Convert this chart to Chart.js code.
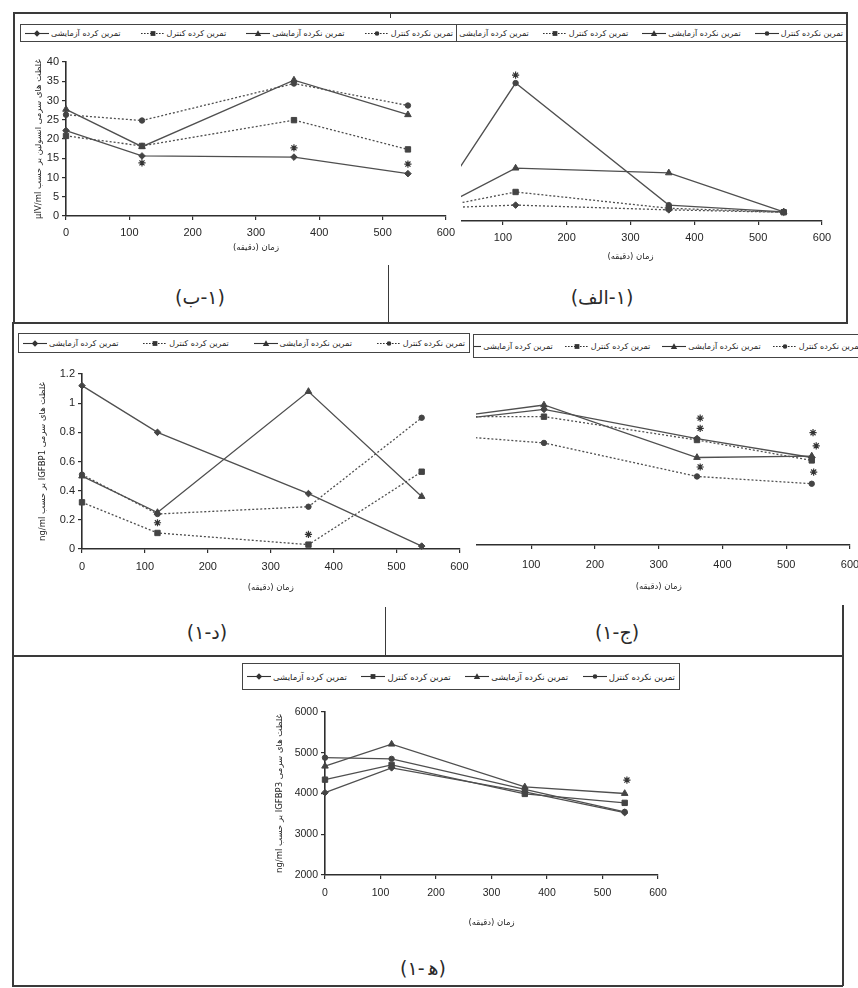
<!DOCTYPE html>
<html><head><meta charset="utf-8">
<script src="https://cdn.jsdelivr.net/npm/chart.js@4.4.0/dist/chart.umd.min.js"></script>
<style>
html,body{margin:0;padding:0;background:#fff;}
body{width:858px;height:988px;position:relative;overflow:hidden;font-family:"Liberation Sans","DejaVu Sans",sans-serif;}
canvas{position:absolute;}
.ln{position:absolute;background:#3a3a3a;}
.leg{position:absolute;border:1px solid #444;background:#fff;display:flex;flex-direction:row;direction:rtl;align-items:center;white-space:nowrap;overflow:hidden;font-family:"DejaVu Sans",sans-serif;font-size:8px;color:#222;box-sizing:border-box;padding:0 4px;}
.item{display:flex;align-items:center;direction:rtl;gap:2px;flex:none;}
.cap{position:absolute;font-family:"DejaVu Sans",sans-serif;font-size:19px;color:#2a2a2a;transform:translate(-50%,-50%);white-space:nowrap;display:flex;flex-direction:row;direction:ltr;align-items:baseline;}
.cap span{display:block;}
</style></head><body>
<canvas id="cAlef" dir="rtl"></canvas>
<canvas id="cJim" dir="rtl"></canvas>
<canvas id="cBe" dir="rtl"></canvas>
<canvas id="cDal" dir="rtl"></canvas>
<canvas id="cHe" dir="rtl"></canvas>
<div id="legs"></div>
<div id="frames"></div>
<div class="cap" style="left:200px;top:297px;"><span>(</span><span>ب</span><span>-</span><span>١</span><span>)</span></div>
<div class="cap" style="left:602px;top:297px;"><span>(</span><span dir="rtl">الف</span><span>-</span><span>١</span><span>)</span></div>
<div class="cap" style="left:207px;top:632px;"><span>(</span><span>١</span><span>-</span><span>د</span><span>)</span></div>
<div class="cap" style="left:617px;top:632px;"><span>(</span><span>١</span><span>-</span><span>ج</span><span>)</span></div>
<div class="cap" style="left:423px;top:968px;"><span>(</span><span>١</span><span>-</span><span style="margin-left:4px">ه&#x200D;</span><span>)</span></div>
<script>
// ---------- DATA ----------
const times = [0, 120, 360, 540];
const xTicks = [0, 100, 200, 300, 400, 500, 600];
const seriesNames = ['تمرین نکرده کنترل', 'تمرین نکرده آزمایشی', 'تمرین کرده کنترل', 'تمرین کرده آزمایشی'];
const xTitle = 'زمان (دقیقه)';

// (۱-ب) insulin
const insulinUntrainedControl = [26.3, 24.8, 34.4, 28.7];
const insulinUntrainedExp     = [27.7, 18.0, 35.3, 26.3];
const insulinTrainedControl   = [20.8, 18.2, 24.9, 17.3];
const insulinTrainedExp       = [22.2, 15.6, 15.3, 11.0];
const insulinStarX = [120, 360, 540];
const insulinStarY = [13.8, 17.7, 13.5];
const insulinYTicks = [0, 5, 10, 15, 20, 25, 30, 35, 40];
const insulinYTitle = 'غلظت های سرمی انسولین بر حسب µIV/ml';

// (۱-الف) (axis hidden in the source)
const alefUntrainedControl = [5.5, 34.7, 4.0, 2.3];
const alefUntrainedExp     = [3.3, 13.3, 12.1, 2.3];
const alefTrainedControl   = [3.5, 7.3, 3.2, 2.2];
const alefTrainedExp       = [3.3, 4.0, 2.8, 2.2];
const alefStarX = [120];
const alefStarY = [36.7];

// (۱-د) IGFBP1
const bp1UntrainedControl = [0.51, 0.24, 0.29, 0.90];
const bp1UntrainedExp     = [0.50, 0.25, 1.08, 0.36];
const bp1TrainedControl   = [0.32, 0.11, 0.03, 0.53];
const bp1TrainedExp       = [1.12, 0.80, 0.38, 0.02];
const bp1StarX = [120, 360];
const bp1StarY = [0.18, 0.10];
const bp1YTicks = [0, 0.2, 0.4, 0.6, 0.8, 1, 1.2];
const bp1YTitle = 'غلظت های سرمی IGFBP1 بر حسب ng/ml';

// (۱-ج) (axis hidden in the source)
const jimUntrainedControl = [0.74, 0.70, 0.47, 0.42];
const jimUntrainedExp     = [0.89, 0.96, 0.60, 0.61];
const jimTrainedControl   = [0.88, 0.88, 0.72, 0.58];
const jimTrainedExp       = [0.87, 0.93, 0.73, 0.60];
const jimStarX = [365, 365, 365, 542, 547, 543];
const jimStarY = [0.87, 0.80, 0.535, 0.77, 0.68, 0.50];

// (۱-ه) IGFBP3
const bp3UntrainedControl = [4880, 4850, 4100, 3550];
const bp3UntrainedExp     = [4670, 5210, 4160, 4000];
const bp3TrainedControl   = [4340, 4700, 3990, 3770];
const bp3TrainedExp       = [4020, 4630, 4040, 3530];
const bp3StarX = [544];
const bp3StarY = [4330];
const bp3YTicks = [2000, 3000, 4000, 5000, 6000];
const bp3YTitle = 'غلظت های سرمی IGFBP3 بر حسب ng/ml';

// ---------- STYLE / HELPERS ----------
const C = {line:'#4f4f4f', point:'#444', axis:'#2e2e2e', text:'#262626'};
const FONT_LAT = '"Liberation Sans", Arial, sans-serif';
const FONT_FA = '"DejaVu Sans", sans-serif';

function ser(i, vals, shape, dashed){
  const r = shape==='triangle'?3.8:(shape==='circle'?2.7:(shape==='rect'?3.8:3.3));
  return {label:seriesNames[i], data:times.map((t,k)=>({x:t,y:vals[k]})), borderColor:C.line, borderWidth:1.3,
    borderDash:dashed?[2,2]:[], pointStyle:shape, pointRadius:r, pointBackgroundColor:C.point, pointBorderColor:C.point,
    pointBorderWidth:1, tension:0, fill:false, clip:false, _shape:shape, _dashed:dashed};
}
function stars(xs, ys){
  return {label:'*', data:xs.map((x,k)=>({x, y:ys[k]})), showLine:false, pointStyle:'star', pointRadius:3.6,
    pointBorderColor:'#333', pointBackgroundColor:'#333', pointBorderWidth:1.2, clip:false};
}

function build(id, box, area, o){
  const cv = document.getElementById(id);
  Object.assign(cv.style,{left:box.x+'px',top:box.y+'px',width:box.w+'px',height:box.h+'px'});
  cv.width = box.w; cv.height = box.h;
  if (o.white) cv.style.background = '#fff';
  const tickSize = o.tickSize || 11;
  const lhT = tickSize*1.2, lhX = 8.5*1.2, lhY = 8.5*1.2;
  const Hx = o.xTitleY - area.b + lhX/2;
  const Wy = o.showY ? area.l - (o.yTitleX - lhY/2) : 0;
  const pad = {left: area.l - box.x - Wy, top: area.t - box.y, right: box.x + box.w - area.r, bottom: box.y + box.h - area.b - Hx};
  const xPad = o.xLabelY - area.b - 4 - lhT/2;
  const axisGrid = {display:true, drawOnChartArea:false, drawTicks:true, tickLength:4, color:C.axis, lineWidth:1.2};
  const axisBorder = {display:true, color:C.axis, width:1.6};
  new Chart(cv, {type:'line', data:{datasets:o.datasets}, options:{
    responsive:false, animation:false, devicePixelRatio:1, events:[],
    layout:{padding:pad},
    plugins:{legend:{display:false}, tooltip:{enabled:false}},
    scales:{
      x:{type:'linear', min:0, max:600, position:'bottom',
        afterBuildTicks:s=>{s.ticks = xTicks.map(v=>({value:v}));},
        afterFit:s=>{s.height = Hx;},
        ticks:{color:C.text, font:{family:FONT_LAT, size:tickSize, lineHeight:1.2}, padding:xPad, maxRotation:0, autoSkip:false, callback:v=>String(v)},
        grid:axisGrid, border:axisBorder,
        title:{display:true, text:xTitle, color:C.text, font:{family:FONT_FA, size:8.5, lineHeight:1.2}, padding:0}},
      y:{type:'linear', display:o.showY, min:o.yMin, max:o.yMax, position:'left',
        afterBuildTicks:s=>{ if (o.yTicks) s.ticks = o.yTicks.map(v=>({value:v})); },
        afterFit:s=>{s.width = Wy;},
        ticks:{color:C.text, font:{family:FONT_LAT, size:tickSize, lineHeight:1.2}, padding:3, autoSkip:false, callback:v=>String(v)},
        grid:axisGrid, border:axisBorder,
        title:{display:!!o.yTitle, text:o.yTitle||'', color:C.text, font:{family:FONT_FA, size:8.5, lineHeight:1.2}, padding:0}}
    }
  }});
  return o.datasets;
}

function markerSVG(shape, dashed, w){
  const h=9, cx=w/2, cy=4.5;
  let m='';
  if (shape==='circle') m=`<circle cx="${cx}" cy="${cy}" r="2.3" fill="#333"/>`;
  else if (shape==='triangle') m=`<polygon points="${cx},${cy-3.2} ${cx-3.2},${cy+2.6} ${cx+3.2},${cy+2.6}" fill="#333"/>`;
  else if (shape==='rect') m=`<rect x="${cx-2.4}" y="${cy-2.4}" width="4.8" height="4.8" fill="#333"/>`;
  else m=`<polygon points="${cx},${cy-3.2} ${cx+3.2},${cy} ${cx},${cy+3.2} ${cx-3.2},${cy}" fill="#333"/>`;
  return `<svg width="${w}" height="${h}" style="flex:none"><line x1="0" y1="${cy}" x2="${w}" y2="${cy}" stroke="#333" stroke-width="1.1" ${dashed?'stroke-dasharray="1.6,1.4"':''}/>${m}</svg>`;
}
function legend(ds, pos, opts){
  const d = document.createElement('div');
  d.className = 'leg';
  Object.assign(d.style,{left:pos.x+'px',top:pos.y+'px',width:pos.w+'px',height:pos.h+'px',
    justifyContent:opts.justify||'space-between', gap:(opts.gap||0)+'px', fontSize:(opts.fs||8)+'px'});
  d.innerHTML = ds.filter(s=>s._shape).map(s=>`<span class="item"><span>${s.label}</span>${markerSVG(s._shape, s._dashed, opts.mw||24)}</span>`).join('');
  document.getElementById('legs').appendChild(d);
}
function line(x,y,w,h){
  const d=document.createElement('div'); d.className='ln';
  Object.assign(d.style,{left:x+'px',top:y+'px',width:w+'px',height:h+'px'});
  document.getElementById('frames').appendChild(d);
}

// ---------- CHARTS ----------
const dsAlef = build('cAlef', {x:425,y:44,w:425,h:226}, {l:439,r:822,t:62,b:221}, {
  showY:false, yMin:0, yMax:40, xTitleY:257, xLabelY:238,
  datasets:[ser(0,alefUntrainedControl,'circle',false), ser(1,alefUntrainedExp,'triangle',false),
            ser(2,alefTrainedControl,'rect',true), ser(3,alefTrainedExp,'rectRot',true), stars(alefStarX,alefStarY)]});

const dsJim = build('cJim', {x:455,y:362,w:420,h:240}, {l:463.6,r:850,t:370,b:545}, {
  showY:false, yMin:0, yMax:1.2, xTitleY:587, xLabelY:565,
  datasets:[ser(0,jimUntrainedControl,'circle',true), ser(1,jimUntrainedExp,'triangle',false),
            ser(2,jimTrainedControl,'rect',true), ser(3,jimTrainedExp,'rectRot',false), stars(jimStarX,jimStarY)]});

const dsBe = build('cBe', {x:15,y:44,w:446,h:226}, {l:66,r:450,t:62,b:216}, {
  white:true, showY:true, yMin:0, yMax:40, yTicks:insulinYTicks, yTitle:insulinYTitle, yTitleX:39, xTitleY:248, xLabelY:232.5,
  datasets:[ser(0,insulinUntrainedControl,'circle',true), ser(1,insulinUntrainedExp,'triangle',false),
            ser(2,insulinTrainedControl,'rect',true), ser(3,insulinTrainedExp,'rectRot',false), stars(insulinStarX,insulinStarY)]});

const dsDal = build('cDal', {x:14,y:356,w:462,h:246}, {l:82,r:465,t:374,b:549}, {
  white:true, showY:true, yMin:0, yMax:1.2, yTicks:bp1YTicks, yTitle:bp1YTitle, yTitleX:43, xTitleY:588, xLabelY:567,
  datasets:[ser(0,bp1UntrainedControl,'circle',true), ser(1,bp1UntrainedExp,'triangle',false),
            ser(2,bp1TrainedControl,'rect',true), ser(3,bp1TrainedExp,'rectRot',false), stars(bp1StarX,bp1StarY)]});

const dsHe = build('cHe', {x:240,y:695,w:440,h:240}, {l:325,r:658,t:712,b:875}, {
  showY:true, yMin:2000, yMax:6000, yTicks:bp3YTicks, yTitle:bp3YTitle, yTitleX:280, xTitleY:923, xLabelY:893, tickSize:10.5,
  datasets:[ser(0,bp3UntrainedControl,'circle',false), ser(1,bp3UntrainedExp,'triangle',false),
            ser(2,bp3TrainedControl,'rect',false), ser(3,bp3TrainedExp,'rectRot',false), stars(bp3StarX,bp3StarY)]});

// ---------- LEGENDS ----------
legend(dsBe,   {x:20, y:24, w:438, h:18}, {});
legend(dsAlef, {x:456,y:24, w:392, h:18}, {justify:'flex-start', gap:14});
legend(dsDal,  {x:18, y:333,w:452, h:20}, {});
legend(dsJim,  {x:473,y:334,w:393, h:24}, {justify:'flex-start', gap:12});
legend(dsHe,   {x:242,y:663,w:438, h:27}, {fs:8.5});

// ---------- FRAMES ----------
line(13,12,835,1.5);      // top
line(13,12,1.5,311);      // left top row
line(846,12,1.5,311);     // right top row
line(390,12,1.2,6);       // small tick at top
line(388,265,1.2,58);     // divider captions top row
line(12,322,836,1.6);     // row 1 bottom
line(12,322,1.5,664);     // left lower
line(12,655,831,1.6);     // row 2 bottom
line(385,607,1.2,48);     // divider captions row 2
line(842,605,1.5,381);    // right lower
line(12,985,831,1.5);     // bottom
</script>
</body></html>
